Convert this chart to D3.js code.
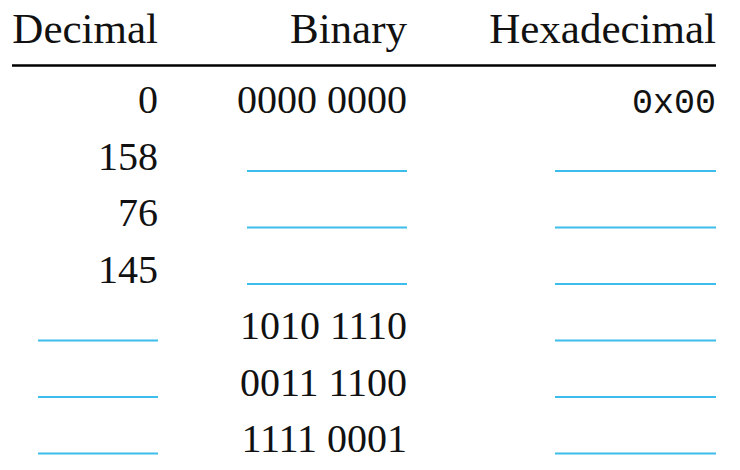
<!DOCTYPE html>
<html>
<head>
<meta charset="utf-8">
<script src="https://cdn.jsdelivr.net/npm/d3@7"></script>
<style>
  body { margin: 0; background: #fff; }
</style>
</head>
<body>
<svg></svg>
<script>
// column headers and cell values (null = blank to fill in)
var headers = ["Decimal", "Binary", "Hexadecimal"];
var decimals = ["0", "158", "76", "145", null, null, null];
var binaries = ["0000 0000", null, null, null, "1010 1110", "0011 1100", "1111 0001"];
var hexes = ["0x00", null, null, null, null, null, null];

var width = 740, height = 470;
var serif = "'Liberation Serif', 'Times New Roman', serif";
var mono = "'Liberation Mono', 'Courier New', monospace";
var blue = "#3dbdeb";

var svg = d3.select("svg")
    .attr("width", width)
    .attr("height", height);

// right edge of each column, and blank line widths
var colRight = [158, 407, 716];
var blankWidth = [120, 160, 161];

var rows = d3.range(decimals.length);
var y = d3.scalePoint()
    .domain(rows)
    .range([113, 452]);

var columns = [decimals, binaries, hexes];

// header
svg.selectAll("text.header")
    .data(headers)
    .enter()
    .append("text")
    .attr("class", "header")
    .attr("x", function (d, i) { return colRight[i]; })
    .attr("y", 43)
    .attr("text-anchor", "end")
    .attr("font-family", serif)
    .attr("font-size", 43)
    .attr("fill", "#111")
    .text(function (d) { return d; });

svg.append("line")
    .attr("x1", 12)
    .attr("x2", 716)
    .attr("y1", 65.5)
    .attr("y2", 65.5)
    .attr("stroke", "#000")
    .attr("stroke-width", 2.6);

columns.forEach(function (col, c) {
    var g = svg.append("g");

    g.selectAll("text")
        .data(col.map(function (v, i) { return {v: v, i: i}; })
            .filter(function (d) { return d.v !== null; }))
        .enter()
        .append("text")
        .attr("x", colRight[c])
        .attr("y", function (d) { return y(d.i); })
        .attr("text-anchor", "end")
        .attr("font-family", c === 2 ? mono : serif)
        .attr("font-size", c === 2 ? 35 : 40)
        .attr("fill", "#111")
        .text(function (d) { return d.v; });

    g.selectAll("line")
        .data(col.map(function (v, i) { return {v: v, i: i}; })
            .filter(function (d) { return d.v === null; }))
        .enter()
        .append("line")
        .attr("x1", colRight[c] - blankWidth[c])
        .attr("x2", colRight[c])
        .attr("y1", function (d) { return y(d.i) + 1.5; })
        .attr("y2", function (d) { return y(d.i) + 1.5; })
        .attr("stroke", blue)
        .attr("stroke-width", 2);
});
</script>
</body>
</html>
